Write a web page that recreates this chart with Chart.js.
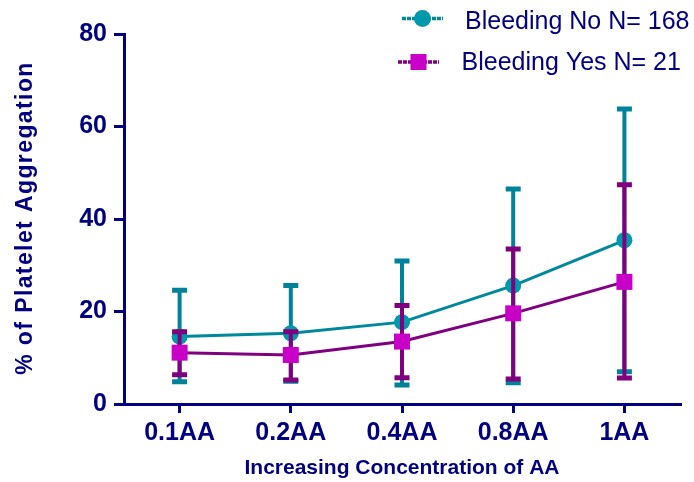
<!DOCTYPE html>
<html>
<head>
<meta charset="utf-8">
<script src="https://cdn.jsdelivr.net/npm/chart.js@4/dist/chart.umd.min.js"></script>
<style>
  html, body { margin: 0; padding: 0; background: #ffffff; }
  #wrap { width: 694px; height: 482px; position: relative; }
</style>
</head>
<body>
<div id="wrap"><canvas id="chart"></canvas></div>
<script>
// Concentrations of arachidonic acid (AA)
const categories = ['0.1AA', '0.2AA', '0.4AA', '0.8AA', '1AA'];

// Bleeding No (N = 168): mean with lower / upper error limits
const noLabel = 'Bleeding No N= 168';
const noMean  = [14.6, 15.3, 17.7, 25.6, 35.4];
const noUpper = [24.6, 25.6, 30.9, 46.5, 63.8];
const noLower = [4.8, 4.9, 4.1, 4.6, 7.0];

// Bleeding Yes (N = 21): mean with lower / upper error limits
const yesLabel = 'Bleeding Yes N= 21';
const yesMean  = [11.1, 10.6, 13.5, 19.6, 26.4];
const yesUpper = [15.6, 15.6, 21.3, 33.5, 47.4];
const yesLower = [6.3, 5.2, 5.7, 5.4, 5.6];

// Axis text
const yTicks = [0, 20, 40, 60, 80];
const yTitle = '% of Platelet Aggregation';
const xTitle = 'Increasing Concentration of AA';

const NAVY = '#000080';
const TEAL_LINE = '#00889B';
const TEAL_MARK = '#0098AB';
const PURPLE_LINE = '#800080';
const PURPLE_MARK = '#C800C8';
const FONT = "'Liberation Sans', Arial, Helvetica, sans-serif";

Chart.defaults.font.family = FONT;

// Vertical error bars with caps, drawn just before each dataset's line and markers
const errorBars = {
  id: 'errorBars',
  beforeDatasetDraw(chart, args) {
    const ds = chart.data.datasets[args.index];
    if (!ds.errLow) return;
    const x = chart.scales.x, y = chart.scales.y, ctx = chart.ctx;
    ctx.save();
    ctx.strokeStyle = ds.errColor;
    ds.data.forEach((v, i) => {
      const px = x.getPixelForValue(i);
      const top = y.getPixelForValue(ds.errHigh[i]);
      const bot = y.getPixelForValue(ds.errLow[i]);
      ctx.lineWidth = 4;
      ctx.beginPath();
      ctx.moveTo(px, top);
      ctx.lineTo(px, bot);
      ctx.stroke();
      ctx.lineWidth = 5;
      ctx.beginPath();
      ctx.moveTo(px - 7.5, top); ctx.lineTo(px + 7.5, top);
      ctx.moveTo(px - 7.5, bot); ctx.lineTo(px + 7.5, bot);
      ctx.stroke();
    });
    ctx.restore();
  }
};

// Legend with a line-and-marker sample per series, plus the rotated y-axis title
const decorations = {
  id: 'decorations',
  afterDraw(chart) {
    const ctx = chart.ctx;
    ctx.save();
    // legend
    const rows = [
      { ds: chart.data.datasets[0], x0: 402, x1: 443, y: 18.5, tx: 465, ty: 28.5 },
      { ds: chart.data.datasets[1], x0: 398, x1: 439, y: 62, tx: 461.5, ty: 70 }
    ];
    rows.forEach(r => {
      ctx.strokeStyle = r.ds.borderColor;
      ctx.lineWidth = 3.5;
      ctx.setLineDash([4, 1]);
      ctx.beginPath();
      ctx.moveTo(r.x0, r.y); ctx.lineTo(r.x1, r.y);
      ctx.stroke();
      ctx.setLineDash([]);
      const cx = (r.x0 + r.x1) / 2;
      ctx.fillStyle = r.ds.pointBackgroundColor;
      if (r.ds.pointStyle === 'rect') {
        ctx.fillRect(cx - 8, r.y - 8, 16, 16);
      } else {
        ctx.beginPath();
        ctx.arc(cx, r.y, 8.5, 0, Math.PI * 2);
        ctx.fill();
      }
      ctx.fillStyle = NAVY;
      ctx.font = '25px ' + FONT;
      ctx.textAlign = 'left';
      ctx.textBaseline = 'alphabetic';
      ctx.fillText(r.ds.label, r.tx, r.ty);
    });
    // y-axis title
    const area = chart.chartArea;
    ctx.translate(32, (area.top + area.bottom) / 2 - 1);
    ctx.rotate(-Math.PI / 2);
    ctx.fillStyle = NAVY;
    ctx.font = 'bold 23px ' + FONT;
    ctx.letterSpacing = '1.4px';
    ctx.textAlign = 'center';
    ctx.textBaseline = 'alphabetic';
    ctx.fillText(yTitle, 0, 0);
    ctx.restore();
  }
};

new Chart(document.getElementById('chart'), {
  type: 'line',
  data: {
    labels: categories,
    datasets: [
      {
        label: noLabel,
        data: noMean,
        errLow: noLower,
        errHigh: noUpper,
        errColor: '#00829A',
        borderColor: TEAL_LINE,
        borderWidth: 3,
        pointStyle: 'circle',
        pointRadius: 8,
        pointHoverRadius: 8,
        pointBorderWidth: 0,
        pointBackgroundColor: TEAL_MARK,
        tension: 0,
        order: 2,
        clip: false
      },
      {
        label: yesLabel,
        data: yesMean,
        errLow: yesLower,
        errHigh: yesUpper,
        errColor: PURPLE_LINE,
        borderColor: PURPLE_LINE,
        borderWidth: 3,
        pointStyle: 'rect',
        pointRadius: 11.3,
        pointHoverRadius: 11.3,
        pointBorderWidth: 0,
        pointBackgroundColor: PURPLE_MARK,
        tension: 0,
        order: 1,
        clip: false
      }
    ]
  },
  options: {
    responsive: true,
    maintainAspectRatio: false,
    animation: false,
    layout: { padding: { left: 0, right: 14, top: 34, bottom: 0 } },
    plugins: {
      legend: { display: false },
      tooltip: { enabled: false }
    },
    scales: {
      x: {
        type: 'category',
        offset: true,
        grid: {
          offset: false,
          drawOnChartArea: false,
          drawTicks: true,
          tickLength: 9,
          color: NAVY,
          lineWidth: 3
        },
        border: { display: true, color: NAVY, width: 3 },
        ticks: {
          color: NAVY,
          padding: 5,
          maxRotation: 0,
          font: { size: 25, weight: 'bold' }
        },
        title: {
          display: true,
          text: xTitle,
          color: NAVY,
          padding: { top: 0, bottom: 1 },
          font: { size: 21, weight: 'bold' }
        },
        afterFit(scale) { scale.height = 78; }
      },
      y: {
        min: 0,
        max: 80,
        afterBuildTicks(scale) { scale.ticks = yTicks.map(v => ({ value: v })); },
        grid: {
          drawOnChartArea: false,
          drawTicks: true,
          tickLength: 10,
          color: NAVY,
          lineWidth: 3
        },
        border: { display: true, color: NAVY, width: 3 },
        ticks: {
          color: NAVY,
          padding: 7,
          font: { size: 25, weight: 'bold' }
        },
        afterFit(scale) { scale.width = 124; }
      }
    }
  },
  plugins: [errorBars, decorations]
});
</script>
</body>
</html>
